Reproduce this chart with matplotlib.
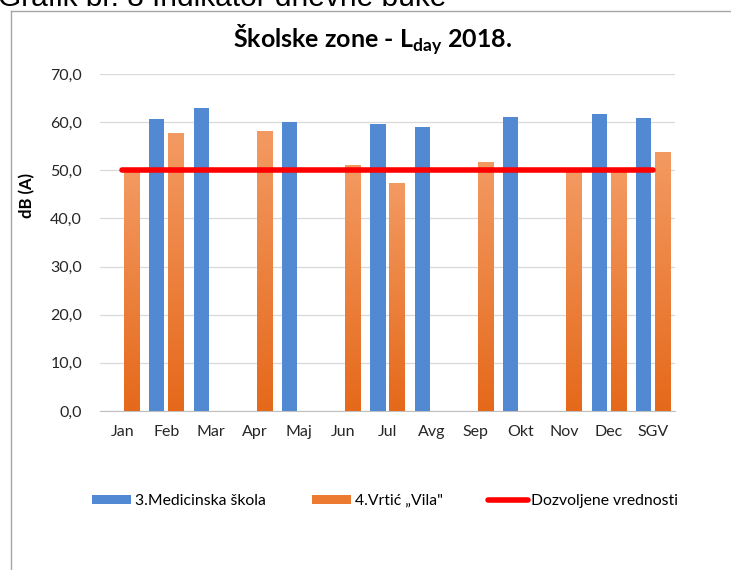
import numpy as np
import matplotlib
matplotlib.use('Agg')
import matplotlib.pyplot as plt
from matplotlib.colors import LinearSegmentedColormap
from matplotlib.lines import Line2D

plt.rcParams['font.family'] = ['Lato', 'DejaVu Sans']
plt.rcParams['mathtext.fontset'] = 'custom'
plt.rcParams['mathtext.rm'] = 'Lato'
plt.rcParams['mathtext.bf'] = 'Lato:bold'

# data
months = ['Jan', 'Feb', 'Mar', 'Apr', 'Maj', 'Jun', 'Jul', 'Avg', 'Sep', 'Okt', 'Nov', 'Dec', 'SGV']
medicinska = [np.nan, 60.6, 62.9, np.nan, 60.1, np.nan, 59.6, 58.9, np.nan, 61.1, np.nan, 61.6, 60.9]
vrtic = [50.1, 57.7, np.nan, 58.2, np.nan, 51.1, 47.4, np.nan, 51.8, np.nan, 50.2, 50.1, 53.8]
dozvoljeno = [50.0] * len(months)

blue = '#5189D2'
orange_top = '#F39A62'
orange_bot = '#E5691B'
grad = LinearSegmentedColormap.from_list('og', [orange_bot, orange_top])

fig = plt.figure(figsize=(7.31, 5.70), dpi=100)
ax = fig.add_axes([100 / 731, 1 - 411 / 570, 575 / 731, 337 / 570])

x = np.arange(len(months))
w = 0.34
off = 0.215

ax.bar(x - off, medicinska, w, color=blue, zorder=3, label='3.Medicinska škola')
obars = ax.bar(x + off, vrtic, w, color='#EC7A30', zorder=3, label='4.Vrtić „Vila"')
ax.plot(x, dozvoljeno, color='#FF0000', lw=4, solid_capstyle='round', zorder=5,
        label='Dozvoljene vrednosti')

# gradient fill of the orange bars
g = np.linspace(0, 1, 100).reshape(-1, 1)
for b, v in zip(obars, vrtic):
    if np.isnan(v):
        continue
    im = ax.imshow(g, cmap=grad, origin='lower', aspect='auto', zorder=4,
                   extent=[b.get_x(), b.get_x() + b.get_width(), 0, v])
    im.set_clip_path(b)
ax.set_xlim(-0.5, len(months) - 0.5)
ax.set_ylim(0, 70)

ax.set_yticks(np.arange(0, 71, 10))
ax.set_yticklabels([f'{t:.1f}'.replace('.', ',') for t in range(0, 71, 10)])
ax.set_xticks(x)
ax.set_xticklabels(months)
ax.tick_params(length=0, labelsize=11.5, colors='#262626')
ax.tick_params(axis='y', pad=13)
ax.tick_params(axis='x', pad=10)
ax.grid(axis='y', color='#D9D9D9', lw=0.9, zorder=0)
for s in ['top', 'right', 'left']:
    ax.spines[s].set_visible(False)
ax.spines['bottom'].set_color('#BFBFBF')

ax.set_ylabel('dB (A)', fontweight='bold', fontsize=12)
ax.yaxis.set_label_coords(-0.113, 0.64)

fig.text(0.509, 1 - 40 / 570, r'Školske zone - L$_{\mathbf{day}}$ 2018.',
         ha='center', va='center', fontsize=18, fontweight='bold')

fig.text(-0.003, 1 - 6 / 570, 'Grafik br. 8 Indikator dnevne buke', ha='left',
         va='baseline', fontsize=21.5, family='Liberation Sans')

# chart border
fig.add_artist(Line2D([10.5 / 731, 10.5 / 731], [0, 1 - 11 / 570], color='#A6A6A6', lw=1))
fig.add_artist(Line2D([10.5 / 731, 730 / 731], [1 - 11 / 570, 1 - 11 / 570], color='#A6A6A6', lw=1))

h, l = ax.get_legend_handles_labels()
order = [1, 2, 0]
fig.legend([h[i] for i in order], [l[i] for i in order], loc='center',
           bbox_to_anchor=(0.527, 1 - 501 / 570), ncol=3, frameon=False,
           fontsize=11.3, handlelength=2.5, handleheight=0.5, handletextpad=0.25,
           columnspacing=2.9)

fig.savefig('out.png', dpi=100)
